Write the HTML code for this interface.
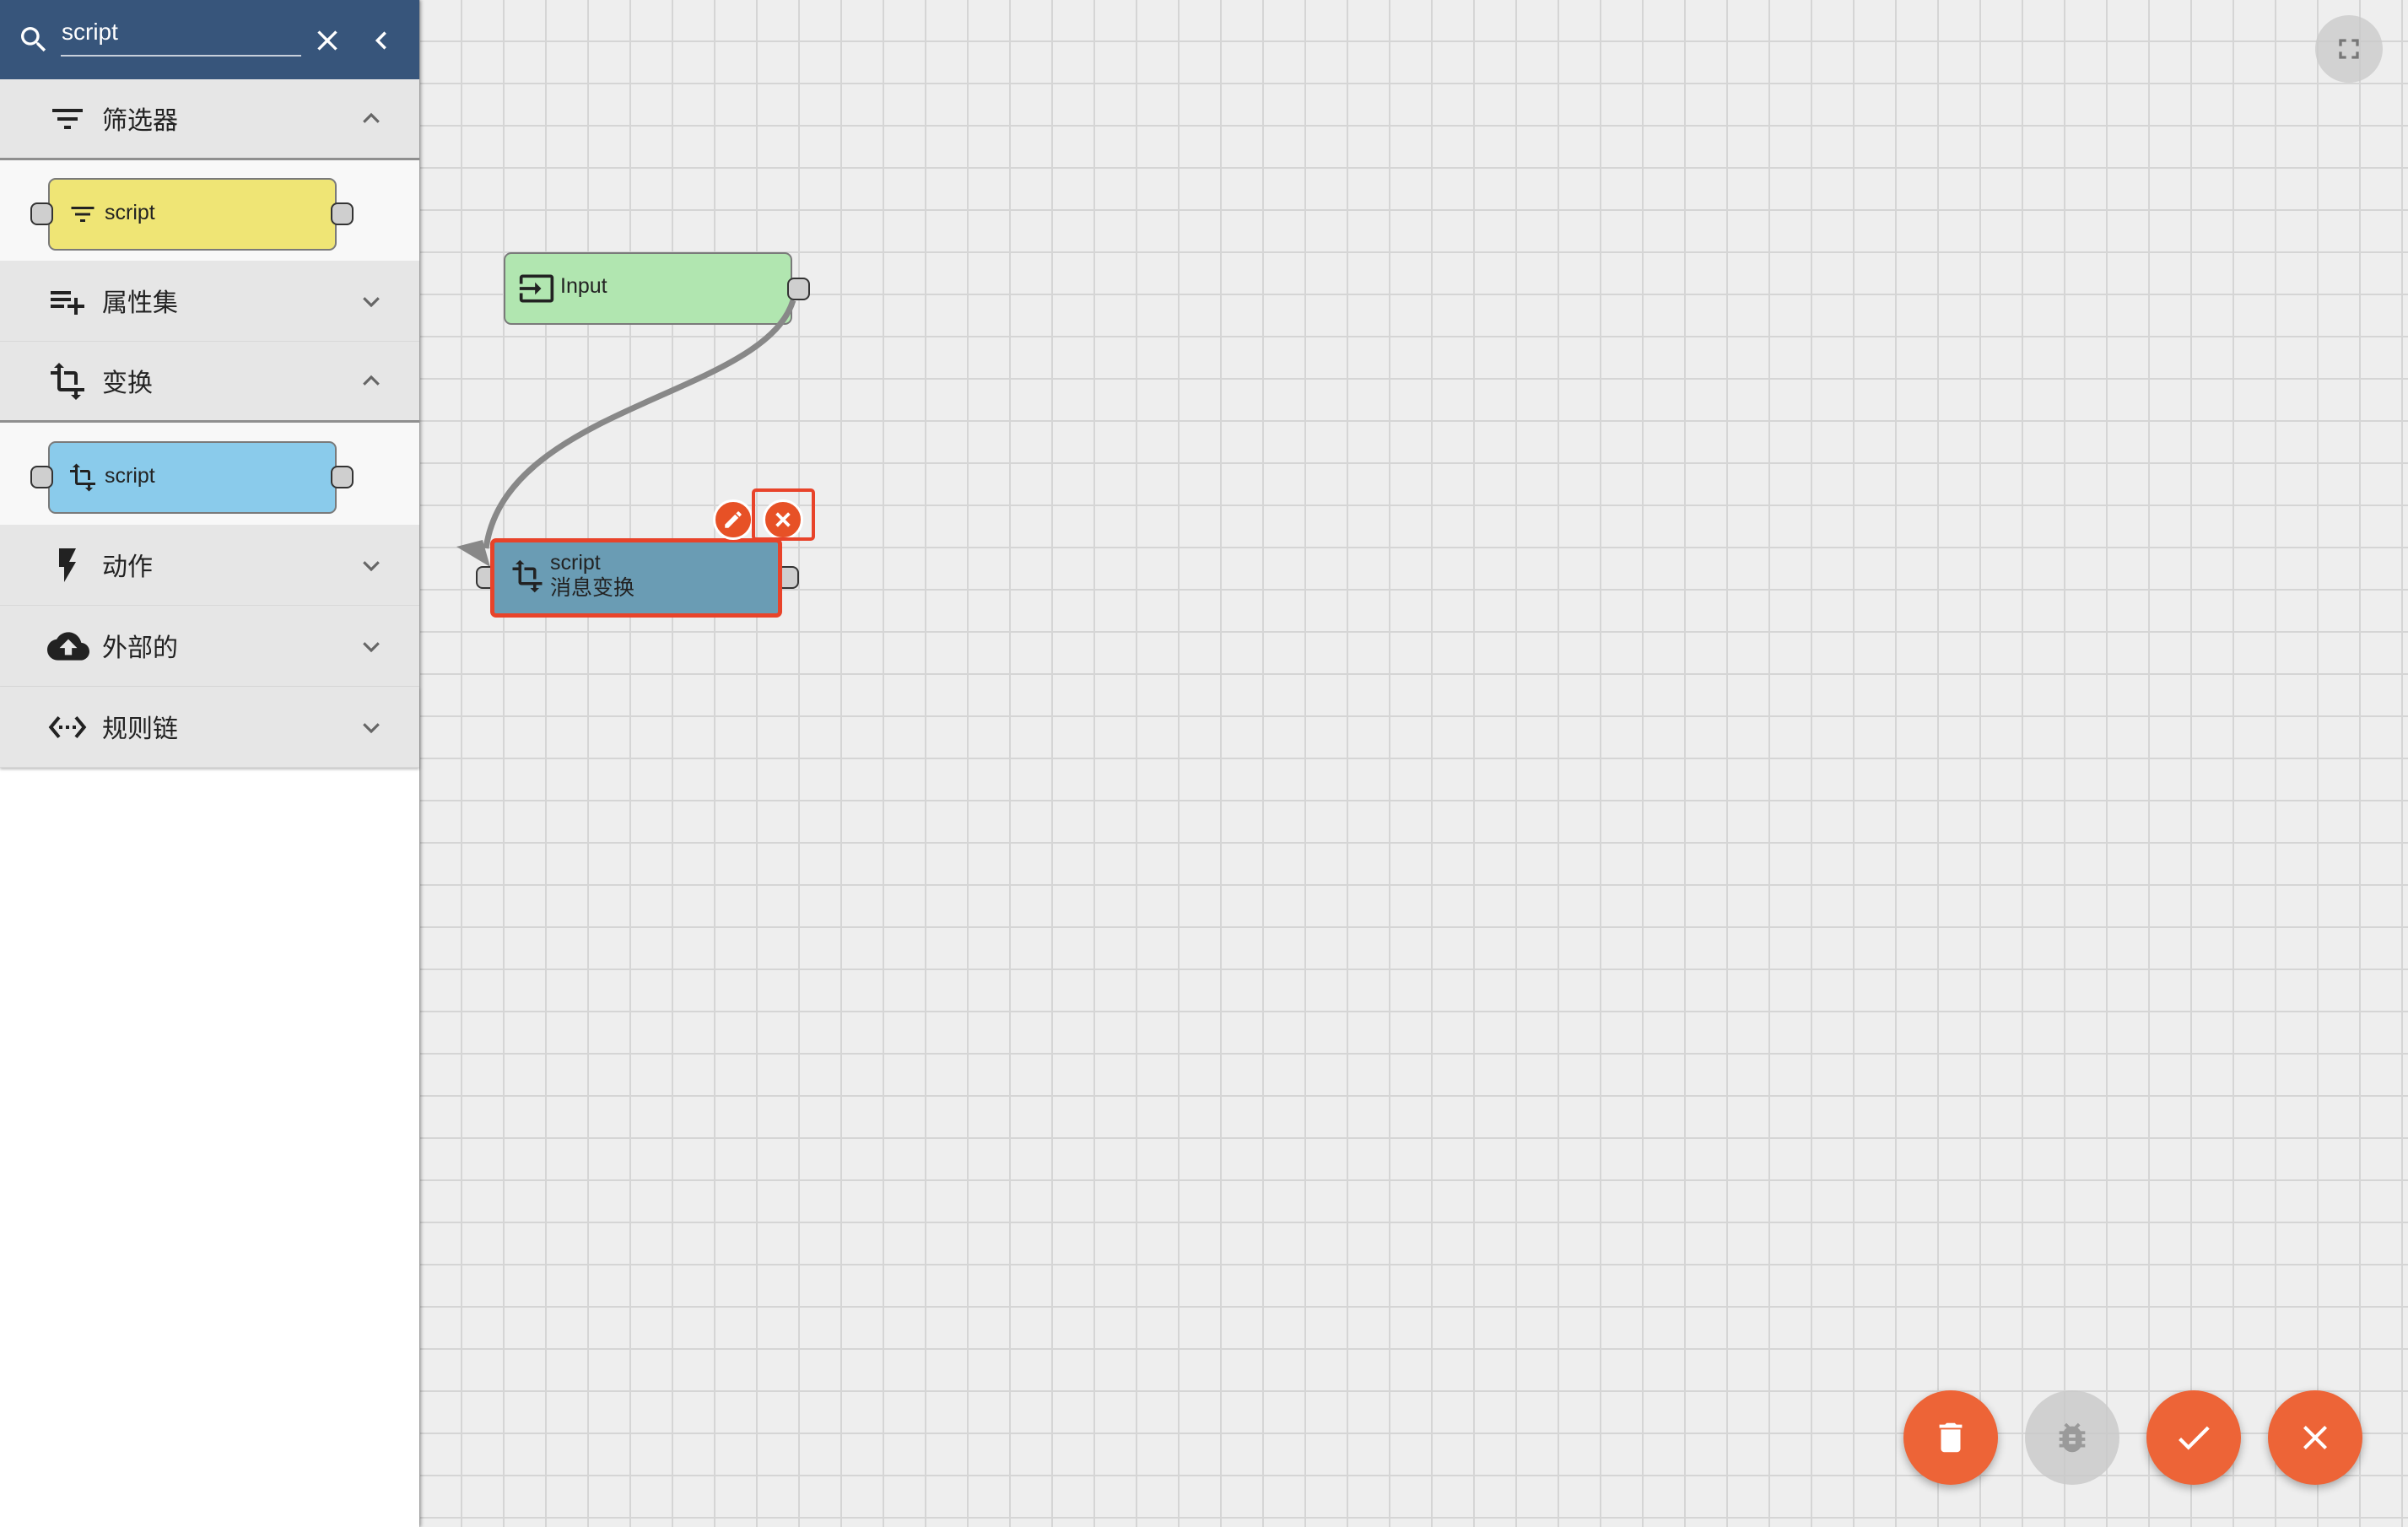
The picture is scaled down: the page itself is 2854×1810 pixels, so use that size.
<!DOCTYPE html>
<html><head><meta charset="utf-8">
<style>
*{margin:0;padding:0;box-sizing:border-box}
body{width:2854px;height:1810px;overflow:hidden;position:relative;background-color:#eeeeee;
background-image:linear-gradient(to right,#d5d5d5 2px,transparent 2px),linear-gradient(to bottom,#d5d5d5 2px,transparent 2px);
background-size:50px 50px;background-position:46px 48px;font-family:"Liberation Sans","Noto Sans CJK SC",sans-serif}
.abs{position:absolute}
#side{left:0;top:0;width:497px;height:1810px;background:#fff;box-shadow:2px 0 4px rgba(0,0,0,.35)}
.hdr{left:0;top:0;width:497px;height:94px;background:#37557b}
.row{left:0;width:497px;height:96px;background:#e6e6e6;border-bottom:1px solid #d8d8d8}
.row .lbl{position:absolute;left:121px;top:50%;transform:translateY(-52%);font-size:30px;color:#222}
.row svg.ic{position:absolute;left:56px;top:50%;transform:translateY(-50%)}
.row svg.ch{position:absolute;left:425px;top:50%;transform:translateY(-50%)}
.item{left:0;width:497px;background:#f8f8f8}
.node{position:absolute;border:2px solid #7a7a7a;border-radius:9px}
.port{position:absolute;width:27px;height:27px;background:#cfcfcf;border:2px solid #333;border-radius:8px}
.fab{position:absolute;width:112px;height:112px;border-radius:50%;background:#ed6437;box-shadow:0 4px 10px rgba(0,0,0,.3);display:flex;align-items:center;justify-content:center}
</style></head><body>
<div id="side" class="abs"></div>
<div class="abs hdr">
 <svg class="abs" style="left:20px;top:27px" width="40" height="40" viewBox="0 0 24 24"><path fill="#fff" d="M15.5 14h-.79l-.28-.27A6.471 6.471 0 0 0 16 9.5 6.5 6.5 0 1 0 9.5 16c1.61 0 3.09-.59 4.23-1.57l.27.28v.79l5 4.99L20.49 19l-4.99-5zm-6 0C7.01 14 5 11.99 5 9.5S7.01 5 9.5 5 14 7.01 14 9.5 11.99 14 9.5 14z"/></svg>
 <div class="abs" style="left:73px;top:22px;font-size:28px;color:#fff">script</div>
 <div class="abs" style="left:72px;top:65px;width:285px;height:2px;background:#c8d0dc"></div>
 <svg class="abs" style="left:368px;top:28px" width="40" height="40" viewBox="0 0 24 24"><path fill="#fff" d="M19 6.41L17.59 5 12 10.59 6.41 5 5 6.41 10.59 12 5 17.59 6.41 19 12 13.41 17.59 19 19 17.59 13.41 12z"/></svg>
 <svg class="abs" style="left:438px;top:34px" width="28" height="28" viewBox="0 0 24 24"><polyline points="16,4 8,12 16,20" fill="none" stroke="#fff" stroke-width="3"/></svg>
</div>

<div class="abs row" style="top:94px;border-bottom:3px solid #8f8f8f">
 <svg class="ic" width="48" height="48" viewBox="0 0 24 24"><path fill="#222" d="M10 18h4v-2h-4v2zM3 6v2h18V6H3zm3 7h12v-2H6v2z"/></svg>
 <div class="lbl">筛选器</div>
 <svg class="ch" width="30" height="30" viewBox="0 0 24 24"><polyline points="5,15 12,8 19,15" fill="none" stroke="#666" stroke-width="2.5"/></svg>
</div>
<div class="abs item" style="top:190px;height:119px">
 <div class="node" style="left:57px;top:21px;width:342px;height:86px;background:#efe575"></div>
 <div class="port" style="left:36px;top:50px"></div><div class="port" style="left:392px;top:50px"></div>
 <svg class="abs" style="left:80px;top:46px" width="36" height="36" viewBox="0 0 24 24"><path fill="#222" d="M10 18h4v-2h-4v2zM3 6v2h18V6H3zm3 7h12v-2H6v2z"/></svg>
 <div class="abs" style="left:124px;top:48px;font-size:25px;color:#222">script</div>
</div>
<div class="abs row" style="top:309px">
 <svg class="ic" width="48" height="48" viewBox="0 0 24 24"><path fill="#222" d="M14 10H2v2h12v-2zm0-4H2v2h12V6zm4 8v-4h-2v4h-4v2h4v4h2v-4h4v-2h-4zM2 16h8v-2H2v2z"/></svg>
 <div class="lbl">属性集</div>
 <svg class="ch" width="30" height="30" viewBox="0 0 24 24"><polyline points="5,9 12,16 19,9" fill="none" stroke="#666" stroke-width="2.5"/></svg>
</div>
<div class="abs row" style="top:405px;border-bottom:3px solid #8f8f8f">
 <svg class="ic" width="48" height="48" viewBox="0 0 24 24"><path fill="#222" d="M22 18v-2H8V4h2L7 1 4 4h2v2H2v2h4v8c0 1.1.9 2 2 2h8v2h-2l3 3 3-3h-2v-2h4zM10 8h6v6h2V8c0-1.1-.9-2-2-2h-6v2z"/></svg>
 <div class="lbl">变换</div>
 <svg class="ch" width="30" height="30" viewBox="0 0 24 24"><polyline points="5,15 12,8 19,15" fill="none" stroke="#666" stroke-width="2.5"/></svg>
</div>
<div class="abs item" style="top:501px;height:121px">
 <div class="node" style="left:57px;top:22px;width:342px;height:86px;background:#8acbeb"></div>
 <div class="port" style="left:36px;top:51px"></div><div class="port" style="left:392px;top:51px"></div>
 <svg class="abs" style="left:80px;top:47px" width="36" height="36" viewBox="0 0 24 24"><path fill="#222" d="M22 18v-2H8V4h2L7 1 4 4h2v2H2v2h4v8c0 1.1.9 2 2 2h8v2h-2l3 3 3-3h-2v-2h4zM10 8h6v6h2V8c0-1.1-.9-2-2-2h-6v2z"/></svg>
 <div class="abs" style="left:124px;top:49px;font-size:25px;color:#222">script</div>
</div>
<div class="abs row" style="top:622px">
 <svg class="ic" width="48" height="48" viewBox="0 0 24 24"><path fill="#222" d="M7 2v11h3v9l7-12h-4l4-8z"/></svg>
 <div class="lbl">动作</div>
 <svg class="ch" width="30" height="30" viewBox="0 0 24 24"><polyline points="5,9 12,16 19,9" fill="none" stroke="#666" stroke-width="2.5"/></svg>
</div>
<div class="abs row" style="top:718px">
 <svg class="ic" width="50" height="50" viewBox="0 0 24 24"><path fill="#222" d="M19.35 10.04C18.67 6.59 15.64 4 12 4 9.110 4 6.6 5.64 5.35 8.04 2.34 8.36 0 10.91 0 14c0 3.31 2.69 6 6 6h13c2.76 0 5-2.24 5-5 0-2.64-2.05-4.78-4.650-4.96zM14 13v4h-4v-4H7l5-5 5 5h-3z"/></svg>
 <div class="lbl">外部的</div>
 <svg class="ch" width="30" height="30" viewBox="0 0 24 24"><polyline points="5,9 12,16 19,9" fill="none" stroke="#666" stroke-width="2.5"/></svg>
</div>
<div class="abs row" style="top:814px;box-shadow:0 2px 3px rgba(0,0,0,.25)">
 <svg class="ic" width="48" height="48" viewBox="0 0 24 24"><path fill="#222" d="M7.77 6.76L6.23 5.48.82 12l5.41 6.52 1.54-1.28L3.42 12l4.35-5.24zM7 13h2v-2H7v2zm10-2h-2v2h2v-2zm-6 2h2v-2h-2v2zm6.77-7.52l-1.54 1.28L20.58 12l-4.35 5.24 1.54 1.28L23.18 12l-5.41-6.52z"/></svg>
 <div class="lbl">规则链</div>
 <svg class="ch" width="30" height="30" viewBox="0 0 24 24"><polyline points="5,9 12,16 19,9" fill="none" stroke="#666" stroke-width="2.5"/></svg>
</div>

<!-- canvas -->
<div class="node" style="left:597px;top:299px;width:342px;height:86px;background:#b1e6b0"></div>
<svg class="abs" style="left:614px;top:320px" width="44" height="44" viewBox="0 0 24 24"><path fill="#222" d="M21 3.01H3c-1.1 0-2 .9-2 2V9h2V4.99h18v14.03H3V15H1v4.01c0 1.1.9 1.98 2 1.98h18c1.1 0 2-.88 2-1.98v-14c0-1.11-.9-2-2-2zM11 16l4-4-4-4v3H1v2h10v3z"/></svg>
<div class="abs" style="left:664px;top:325px;font-size:25px;color:#222">Input</div>
<div class="port" style="left:933px;top:329px"></div>

<svg class="abs" style="left:0;top:0" width="2854" height="1810">
 <path d="M940 356 C 905 470, 600 480, 576 650" fill="none" stroke="#888" stroke-width="7"/>
 <polygon points="541,648 581,672 572,640" fill="#888"/>
</svg>

<div class="port" style="left:564px;top:671px"></div>
<div class="port" style="left:920px;top:671px"></div>
<div class="abs" style="left:581px;top:638px;width:346px;height:94px;border:5px solid #e8432a;border-radius:7px;background:#6a9cb4"></div>
<svg class="abs" style="left:604px;top:662px" width="42" height="42" viewBox="0 0 24 24"><path fill="#222" d="M22 18v-2H8V4h2L7 1 4 4h2v2H2v2h4v8c0 1.1.9 2 2 2h8v2h-2l3 3 3-3h-2v-2h4zM10 8h6v6h2V8c0-1.1-.9-2-2-2h-6v2z"/></svg>
<div class="abs" style="left:652px;top:652px;font-size:25px;color:#222;line-height:30px">script<br>消息变换</div>

<div class="abs" style="left:845px;top:592px;width:48px;height:48px;border-radius:50%;background:#e75126;border:3px solid #fff;display:flex;align-items:center;justify-content:center"><svg width="26" height="26" viewBox="0 0 24 24"><path fill="#fff" d="M3 17.25V21h3.75L17.81 9.94l-3.75-3.75L3 17.25zM20.71 7.04a.996.996 0 0 0 0-1.41l-2.34-2.34a.996.996 0 0 0-1.41 0l-1.83 1.83 3.75 3.75 1.83-1.83z"/></svg></div>
<div class="abs" style="left:904px;top:592px;width:48px;height:48px;border-radius:50%;background:#e75126;border:3px solid #fff;display:flex;align-items:center;justify-content:center"><svg width="26" height="26" viewBox="0 0 24 24"><path fill="#fff" stroke="#fff" stroke-width="1.5" d="M19 6.41L17.59 5 12 10.59 6.41 5 5 6.41 10.59 12 5 17.59 6.41 19 12 13.41 17.59 19 19 17.59 13.41 12z"/></svg></div>
<div class="abs" style="left:891px;top:579px;width:75px;height:62px;border:4px solid #e8432a;border-radius:5px"></div>

<div class="abs" style="left:2744px;top:18px;width:80px;height:80px;border-radius:50%;background:rgba(200,200,200,.75);display:flex;align-items:center;justify-content:center"><svg width="40" height="40" viewBox="0 0 24 24"><path fill="#777" d="M7 14H5v5h5v-2H7v-3zm-2-4h2V7h3V5H5v5zm12 7h-3v2h5v-5h-2v3zM14 5v2h3v3h2V5h-5z"/></svg></div>

<div class="fab" style="left:2256px;top:1648px"><svg width="46" height="46" viewBox="0 0 24 24"><path fill="#fff" d="M6 19c0 1.1.9 2 2 2h8c1.1 0 2-.9 2-2V7H6v12zM19 4h-3.5l-1-1h-5l-1 1H5v2h14V4z"/></svg></div>
<div class="fab" style="left:2400px;top:1648px;background:rgba(200,200,200,.8);box-shadow:none"><svg width="46" height="46" viewBox="0 0 24 24"><path fill="#9a9a9a" d="M20 8h-2.81c-.45-.78-1.07-1.45-1.82-1.96L17 4.41 15.59 3l-2.17 2.170C12.96 5.06 12.49 5 12 5c-.49 0-.96.06-1.41.17L8.41 3 7 4.41l1.62 1.63C7.88 6.55 7.26 7.22 6.81 8H4v2h2.09c-.05.33-.09.66-.09 1v1H4v2h2v1c0 .34.04.67.09 1H4v2h2.81c1.04 1.79 2.97 3 5.19 3s4.15-1.21 5.19-3H20v-2h-2.09c.05-.33.09-.66.09-1v-1h2v-2h-2v-1c0-.34-.04-.67-.09-1H20V8zm-6 8h-4v-2h4v2zm0-4h-4v-2h4v2z"/></svg></div>
<div class="fab" style="left:2544px;top:1648px"><svg width="50" height="50" viewBox="0 0 24 24"><path fill="#fff" d="M9 16.17L4.83 12l-1.42 1.41L9 19 21 7l-1.41-1.41z"/></svg></div>
<div class="fab" style="left:2688px;top:1648px"><svg width="48" height="48" viewBox="0 0 24 24"><path fill="#fff" d="M19 6.41L17.59 5 12 10.59 6.41 5 5 6.41 10.59 12 5 17.59 6.41 19 12 13.41 17.59 19 19 17.59 13.41 12z"/></svg></div>
</body></html>
